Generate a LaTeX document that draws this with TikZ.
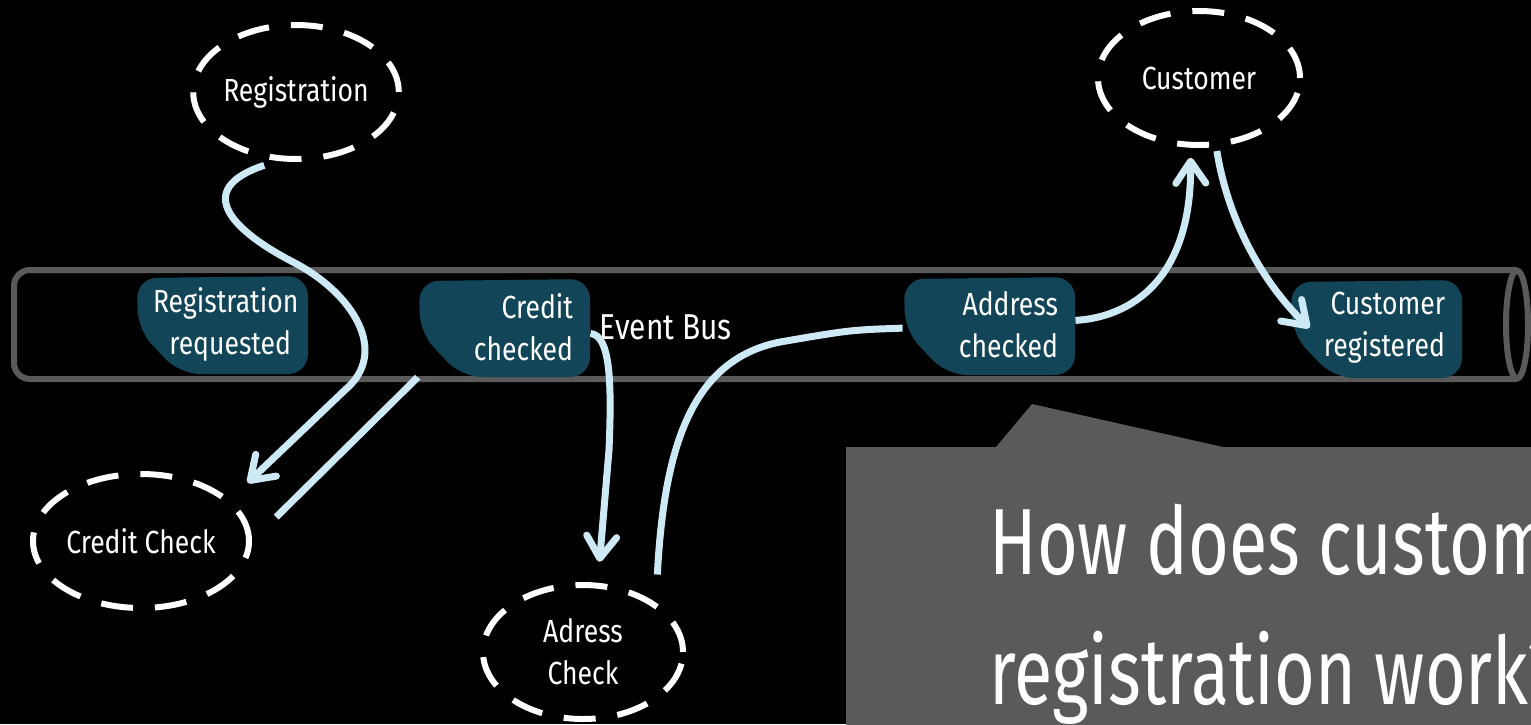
\documentclass[tikz,border=0pt]{standalone}
\usepackage{fontspec}
\setmainfont{Fira Sans}[FakeStretch=0.83]
\newfontfamily\askfont{Fira Sans}[FakeStretch=0.745]
\usepackage{tikz}
\usetikzlibrary{positioning,calc,arrows.meta,shapes.geometric}
\definecolor{busgray}{HTML}{5A5A5A}
\definecolor{evteal}{HTML}{124558}
\definecolor{flowblue}{HTML}{CDE9F5}
\pgfdeclarelayer{back}
\pgfdeclarelayer{front}
\pgfsetlayers{back,main,front}
\tikzset{
	bus/.style={draw=busgray,line width=3pt},
	service/.style={ellipse,draw=white,line width=3pt,dash pattern=on 16pt off 11pt,
		inner sep=0pt,minimum width=101pt,minimum height=67pt,text=white,align=center,
		font=\fontsize{16}{21}\selectfont},
	event/.style={text width=69pt,inner xsep=8.5pt,minimum height=50pt,align=right,
		text=white,font=\fontsize{16}{21}\selectfont},
	evfill/.style={fill=evteal,rounded corners=10pt},
	plain flow/.style={draw=flowblue,line width=3.5pt},
	flow/.style={plain flow,-{Straight Barb[length=11pt,width=15pt,round]}}
}
% blob behind an event label, #1 is its centre
\newcommand{\evblob}[1]{\fill[evfill,shift={#1}] (-85,-46) -- (86,-48) -- (86,50) -- (-42,50) -- (-84,6) -- cycle;}

\begin{document}
\begin{tikzpicture}[x=0.5pt,y=-0.5pt]
	\useasboundingbox (0,0) rectangle (1531,724);
	
	\begin{pgfonlayer}{back}
		\fill[black] (0,0) rectangle (1531,724);
		\draw[bus,rounded corners=8pt] (1517,270) -- (14,270) -- (14,379) -- (1517,379);
		\draw[bus] (1517,324.5) ellipse (5.5pt and 27pt);
	\end{pgfonlayer}
	
	% events on the bus
	\begin{pgfonlayer}{front}
		\evblob{(222,324)}
		\node[event] (regreq) at (222,324) {Registration\\requested};
		\evblob{(504,327)}
		\node[event] (crch) at (504,327) {Credit\\checked};
		\evblob{(989,325)}
		\node[event] (adch) at (989,325) {Address\\checked};
		\evblob{(1376,328)}
		\node[event] (custreg) at (1376,328) {Customer\\registered};
	\end{pgfonlayer}
	\node[right=0pt of crch,inner xsep=4.5pt,text=white,font=\fontsize{18}{22}\selectfont] (bus) {Event Bus};
	
	% services
	\node[service] (reg) at (296,92) {Registration};
	\node[service] (cust) at (1199,78) {Customer};
	\node[service,minimum width=108pt] (cc) at (141,541) {Credit Check};
	\node[service,minimum width=100pt] (ac) at (583,652) {Adress\\Check};
	
	\draw[flow,shorten <=7pt,shorten >=12pt] (reg.255) .. controls (190,190) and (235,232) .. (293,262)
		.. controls (353,293) and (390,352) .. (345,390) -- (cc.25);
	\draw[plain flow,shorten <=17pt] (cc.east) .. controls (418,377) .. (crch);
	\draw[flow,shorten >=10.5pt] (crch) .. controls (610,335) and (612,380) .. (609,450) -- (ac.78);
	\draw[plain flow,shorten <=14pt] (ac.north east) .. controls (664,450) and (690,360) .. (780,342)
		.. controls (850,330) .. (adch);
	\draw[flow,shorten >=5pt] (adch) .. controls (1120,318) and (1192,290) .. (cust.263);
	\begin{pgfonlayer}{front}
		\draw[flow,shorten <=2pt] (cust.284) .. controls (1228,220) and (1262,282) .. ($(custreg.west)!0.23!(custreg)$);
	\end{pgfonlayer}
	
	% question
	\begin{scope}
		\clip (0,0) rectangle (1531,724);
		\fill[busgray] (846,447) -- (996,447) -- (1032,404) -- (1223,447) -- (1560,447) -- (1560,740) -- (846,740) -- cycle;
		\node[anchor=north west,align=left,inner sep=0pt,text=white,font=\askfont\fontsize{47}{65}\selectfont] (q) at (989,504)
			{How does customer\\registration work?};
	\end{scope}
	
\end{tikzpicture}
\end{document}
